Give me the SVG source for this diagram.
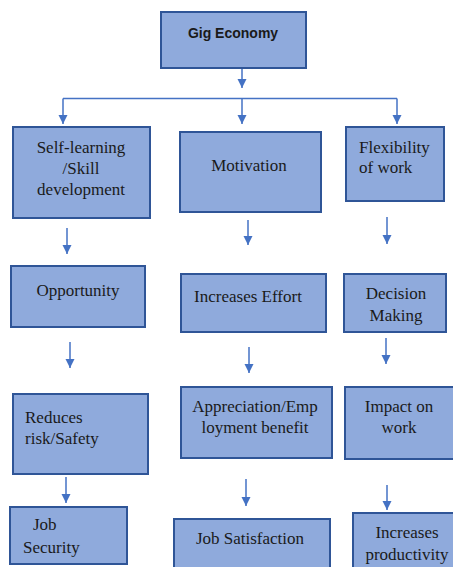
<svg xmlns="http://www.w3.org/2000/svg" width="453" height="567" viewBox="0 0 453 567">
  <defs>
    <marker id="arrow" markerUnits="userSpaceOnUse" markerWidth="10" markerHeight="10" refX="9" refY="4.5" orient="auto">
      <path d="M0,0 L9,4.5 L0,9 z" fill="#4472c4"/>
    </marker>
    <style>
      .box { fill: #8faadc; stroke: #2f5597; stroke-width: 2; }
      .t { font-family: 'Liberation Serif', 'Times New Roman', serif; font-size: 17px; fill: #1a1a1a; }
      .c { text-anchor: middle; }
      .title { font-family: 'Liberation Sans', Arial, sans-serif; font-weight: bold; font-size: 14px; fill: #1a1a1a; text-anchor: middle; }
      .link { stroke: #4472c4; stroke-width: 1.5; fill: none; }
      .arr { marker-end: url(#arrow); }
    </style>
  </defs>
  <rect width="453" height="567" fill="#ffffff"/>

  <!-- connectors: root arrow, branch bar, and column arrows -->
  <g id="connectors">
    <line class="link arr" x1="242" y1="68" x2="242" y2="88"/>
    <line class="link" x1="63" y1="98.5" x2="397" y2="98.5"/>
    <line class="link arr" x1="63" y1="98.5" x2="63" y2="124"/>
    <line class="link arr" x1="242" y1="98.5" x2="242" y2="124"/>
    <line class="link arr" x1="397" y1="98.5" x2="397" y2="124"/>

    <line class="link arr" x1="67" y1="228" x2="67" y2="254"/>
    <line class="link arr" x1="248" y1="220" x2="248" y2="245"/>
    <line class="link arr" x1="387" y1="217" x2="387" y2="244"/>

    <line class="link arr" x1="70" y1="342" x2="70" y2="368"/>
    <line class="link arr" x1="249" y1="347" x2="249" y2="373"/>
    <line class="link arr" x1="386" y1="338" x2="386" y2="364"/>

    <line class="link arr" x1="66" y1="477" x2="66" y2="503"/>
    <line class="link arr" x1="246" y1="479" x2="246" y2="506"/>
    <line class="link arr" x1="387" y1="485" x2="387" y2="510"/>
  </g>

  <g id="gig-economy">
    <rect class="box" x="161" y="12" width="145" height="56"/>
    <text class="title" x="233" y="38">Gig Economy</text>
  </g>

  <g id="self-learning">
    <rect class="box" x="13" y="127" width="137" height="91"/>
    <text class="t c" x="81" y="153">Self-learning</text>
    <text class="t c" x="81" y="174">/Skill</text>
    <text class="t c" x="81" y="195">development</text>
  </g>

  <g id="motivation">
    <rect class="box" x="180" y="132" width="141" height="80"/>
    <text class="t c" x="249" y="171">Motivation</text>
  </g>

  <g id="flexibility">
    <rect class="box" x="346" y="127" width="98" height="74"/>
    <text class="t" x="359" y="153">Flexibility</text>
    <text class="t" x="359" y="173">of work</text>
  </g>

  <g id="opportunity">
    <rect class="box" x="11" y="266" width="134" height="61"/>
    <text class="t c" x="78" y="296">Opportunity</text>
  </g>

  <g id="increases-effort">
    <rect class="box" x="181" y="274" width="145" height="58"/>
    <text class="t c" x="248" y="302">Increases Effort</text>
  </g>

  <g id="decision-making">
    <rect class="box" x="344" y="274" width="102" height="58"/>
    <text class="t c" x="396" y="299">Decision</text>
    <text class="t c" x="396" y="321">Making</text>
  </g>

  <g id="reduces-risk">
    <rect class="box" x="13" y="394" width="135" height="80"/>
    <text class="t" x="25" y="423">Reduces</text>
    <text class="t" x="25" y="444">risk/Safety</text>
  </g>

  <g id="appreciation">
    <rect class="box" x="181" y="387" width="151" height="71"/>
    <text class="t c" x="255" y="412">Appreciation/Emp</text>
    <text class="t c" x="255" y="433">loyment benefit</text>
  </g>

  <g id="impact-on-work">
    <rect class="box" x="345" y="387" width="112" height="72"/>
    <text class="t c" x="399" y="412">Impact on</text>
    <text class="t c" x="399" y="433">work</text>
  </g>

  <g id="job-security">
    <rect class="box" x="10" y="507" width="117" height="57"/>
    <text class="t" x="33" y="530">Job</text>
    <text class="t" x="23" y="553">Security</text>
  </g>

  <g id="job-satisfaction">
    <rect class="box" x="174" y="519" width="156" height="60"/>
    <text class="t c" x="250" y="544">Job Satisfaction</text>
  </g>

  <g id="increases-productivity">
    <rect class="box" x="353" y="513" width="110" height="66"/>
    <text class="t c" x="407" y="538">Increases</text>
    <text class="t c" x="407" y="560">productivity</text>
  </g>
</svg>
